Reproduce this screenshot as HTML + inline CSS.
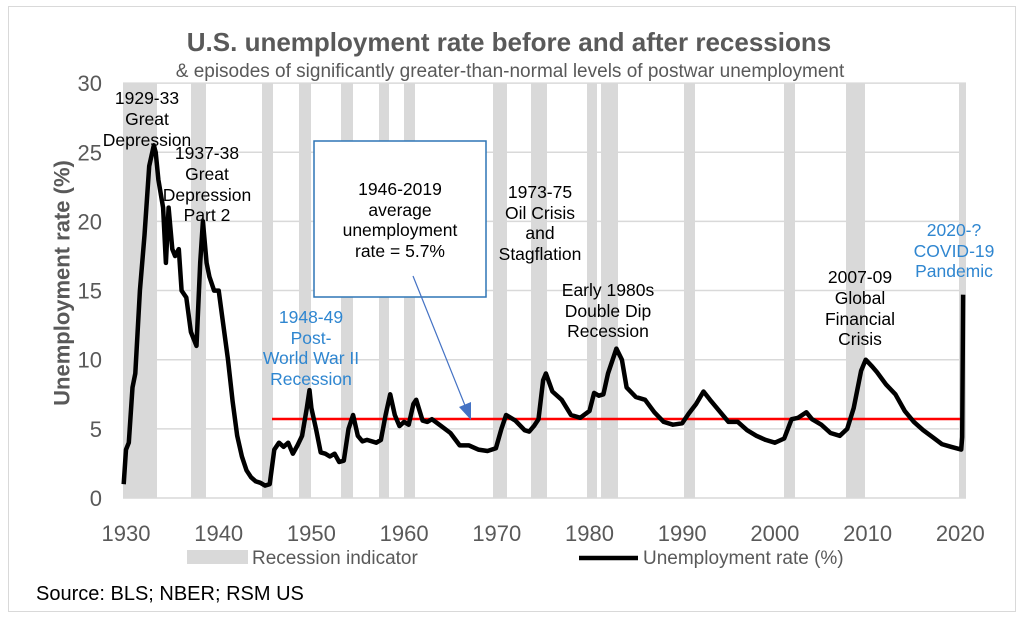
<!DOCTYPE html>
<html><head><meta charset="utf-8"><style>
html,body{margin:0;padding:0;background:#fff;}
svg{display:block;font-family:"Liberation Sans",Arial,sans-serif;}
</style></head><body>
<svg id="s" width="1024" height="618" viewBox="0 0 1024 618">
<rect x="8.5" y="6.5" width="1007" height="605" fill="#fff" stroke="#d9d9d9"/>
<g id="rec" fill="#d9d9d9"></g>
<g stroke="#d9d9d9" stroke-width="1.5" id="grid"></g>
<line x1="272" y1="419" x2="963" y2="419" stroke="#ff0000" stroke-width="2.5"/>
<polyline id="ser" fill="none" stroke="#000" stroke-width="4.5" stroke-linejoin="round"/>
<g font-size="22" fill="#595959" text-anchor="end" id="yt"></g>
<g font-size="22" fill="#595959" text-anchor="middle" id="xt"></g>
<text transform="translate(62,283) rotate(-90)" font-size="22" font-weight="bold" fill="#595959" text-anchor="middle" dominant-baseline="central">Unemployment rate (%)</text>
<text x="509" y="51" font-size="26" font-weight="bold" fill="#595959" text-anchor="middle">U.S. unemployment rate before and after recessions</text>
<text x="510" y="77" font-size="19" fill="#595959" text-anchor="middle">&amp; episodes of significantly greater-than-normal levels of postwar unemployment</text>
<rect x="314" y="141" width="172" height="156" fill="#fff" stroke="#2e75b6" stroke-width="1.5"/>
<line x1="413" y1="276" x2="466" y2="408" stroke="#4472c4" stroke-width="1.2"/>
<polygon points="471,420 459,407 471,402" fill="#4472c4"/>
<g font-size="17.5" fill="#000" text-anchor="middle" dominant-baseline="central">
<text x="147" y="98">1929-33</text><text x="147" y="119">Great</text><text x="147" y="140">Depression</text>
<text x="207" y="153">1937-38</text><text x="207" y="174">Great</text><text x="207" y="195">Depression</text><text x="207" y="215">Part 2</text>
<text x="400" y="189">1946-2019</text><text x="400" y="210">average</text><text x="400" y="230">unemployment</text><text x="400" y="251">rate = 5.7%</text>
<text x="540" y="192">1973-75</text><text x="540" y="213">Oil Crisis</text><text x="540" y="233">and</text><text x="540" y="254">Stagflation</text>
<text x="608" y="290">Early 1980s</text><text x="608" y="311">Double Dip</text><text x="608" y="331">Recession</text>
<text x="860" y="277">2007-09</text><text x="860" y="298">Global</text><text x="860" y="319">Financial</text><text x="860" y="339">Crisis</text>
</g>
<g font-size="17.5" fill="#2f86d0" text-anchor="middle" dominant-baseline="central">
<text x="311" y="317">1948-49</text><text x="311" y="338">Post-</text><text x="311" y="358">World War II</text><text x="311" y="379">Recession</text>
<text x="954" y="230">2020-?</text><text x="954" y="251">COVID-19</text><text x="954" y="271">Pandemic</text>
</g>
<rect x="187" y="550" width="61" height="14" fill="#d9d9d9"/>
<text x="252" y="564" font-size="19" fill="#595959">Recession indicator</text>
<line x1="579" y1="558" x2="638" y2="558" stroke="#000" stroke-width="4.5"/>
<text x="643" y="564" font-size="19" fill="#595959">Unemployment rate (%)</text>
<text x="36" y="600" font-size="20" fill="#000">Source: BLS; NBER; RSM US</text>
</svg>
<script>
var NS="http://www.w3.org/2000/svg";
function X(y){return 126+(y-1930)*9.27;}
function Y(v){return 498-v*13.83;}
var rec=[[123,157],[191,206],[262,273],[299,311],[341,353],[379,389],[404,415],[493,507],[531,547],[587,597],[601,618],[684,695],[784,795],[846,865],[959,966]];
var g=document.getElementById('rec');
rec.forEach(function(r){var e=document.createElementNS(NS,'rect');e.setAttribute('x',r[0]);e.setAttribute('y',83);e.setAttribute('width',r[1]-r[0]);e.setAttribute('height',415);g.appendChild(e);});
var gr=document.getElementById('grid'),yt=document.getElementById('yt');
for(var v=0;v<=30;v+=5){var l=document.createElementNS(NS,'line');l.setAttribute('x1',123);l.setAttribute('x2',966);l.setAttribute('y1',Y(v));l.setAttribute('y2',Y(v));gr.appendChild(l);
var t=document.createElementNS(NS,'text');t.setAttribute('x',102);t.setAttribute('y',Y(v)+8);t.textContent=v;yt.appendChild(t);}
var xt=document.getElementById('xt');
for(var y=1930;y<=2020;y+=10){var t=document.createElementNS(NS,'text');t.setAttribute('x',X(y));t.setAttribute('y',541);t.textContent=y;xt.appendChild(t);}
var d=[[1929.75,1],[1930,3.5],[1930.3,4],[1930.7,8],[1931,9],[1931.5,15],[1932,19],[1932.5,24],[1933,25.5],[1933.2,25],[1933.5,23],[1934,21],[1934.3,17],[1934.6,21],[1935,18],[1935.3,17.5],[1935.7,18],[1936,15],[1936.5,14.5],[1937,12],[1937.6,11],[1938,17],[1938.3,20],[1938.7,17],[1939,16],[1939.5,15],[1940,15],[1940.4,13],[1941,10],[1941.5,7],[1942,4.5],[1942.5,3],[1943,2],[1943.5,1.5],[1944,1.2],[1944.5,1.1],[1945,0.9],[1945.5,1.0],[1946,3.5],[1946.5,4],[1947,3.7],[1947.5,4],[1948,3.2],[1948.5,3.8],[1949,4.5],[1949.5,6.5],[1949.8,7.8],[1950,6.5],[1950.5,5.0],[1951,3.3],[1951.5,3.2],[1952,3],[1952.5,3.2],[1953,2.6],[1953.5,2.7],[1954,5],[1954.5,6],[1955,4.5],[1955.5,4.1],[1956,4.2],[1957,4],[1957.5,4.2],[1958,6],[1958.5,7.5],[1959,6],[1959.5,5.2],[1960,5.5],[1960.5,5.3],[1961,6.8],[1961.3,7.1],[1962,5.6],[1962.5,5.5],[1963,5.7],[1964,5.2],[1965,4.7],[1966,3.8],[1967,3.8],[1968,3.5],[1969,3.4],[1969.9,3.6],[1970.5,5.0],[1971,6.0],[1972,5.6],[1973,4.9],[1973.5,4.8],[1974,5.2],[1974.5,5.7],[1975,8.5],[1975.3,9],[1976,7.7],[1977,7.1],[1978,6.0],[1979,5.8],[1980,6.3],[1980.5,7.6],[1981,7.4],[1981.5,7.5],[1982,9],[1982.9,10.8],[1983.5,10],[1984,8],[1985,7.3],[1986,7.1],[1987,6.2],[1988,5.5],[1989,5.3],[1990,5.4],[1990.7,6.1],[1991.5,6.8],[1992.3,7.7],[1993,7.1],[1994,6.3],[1995,5.5],[1996,5.5],[1997,4.9],[1998,4.5],[1999,4.2],[2000,4.0],[2001,4.3],[2001.8,5.7],[2002.5,5.8],[2003.4,6.2],[2004,5.7],[2005,5.3],[2006,4.7],[2007,4.5],[2007.8,5],[2008.5,6.5],[2009.3,9.2],[2009.8,10],[2010.5,9.5],[2011,9.1],[2012,8.2],[2013,7.5],[2014,6.3],[2015,5.5],[2016,4.9],[2017,4.4],[2018,3.9],[2019,3.7],[2020.1,3.5],[2020.2,4.4],[2020.3,14.7]];
document.getElementById('ser').setAttribute('points',d.map(function(p){return X(p[0]).toFixed(1)+','+Y(p[1]).toFixed(1);}).join(' '));
</script>
</body></html>
